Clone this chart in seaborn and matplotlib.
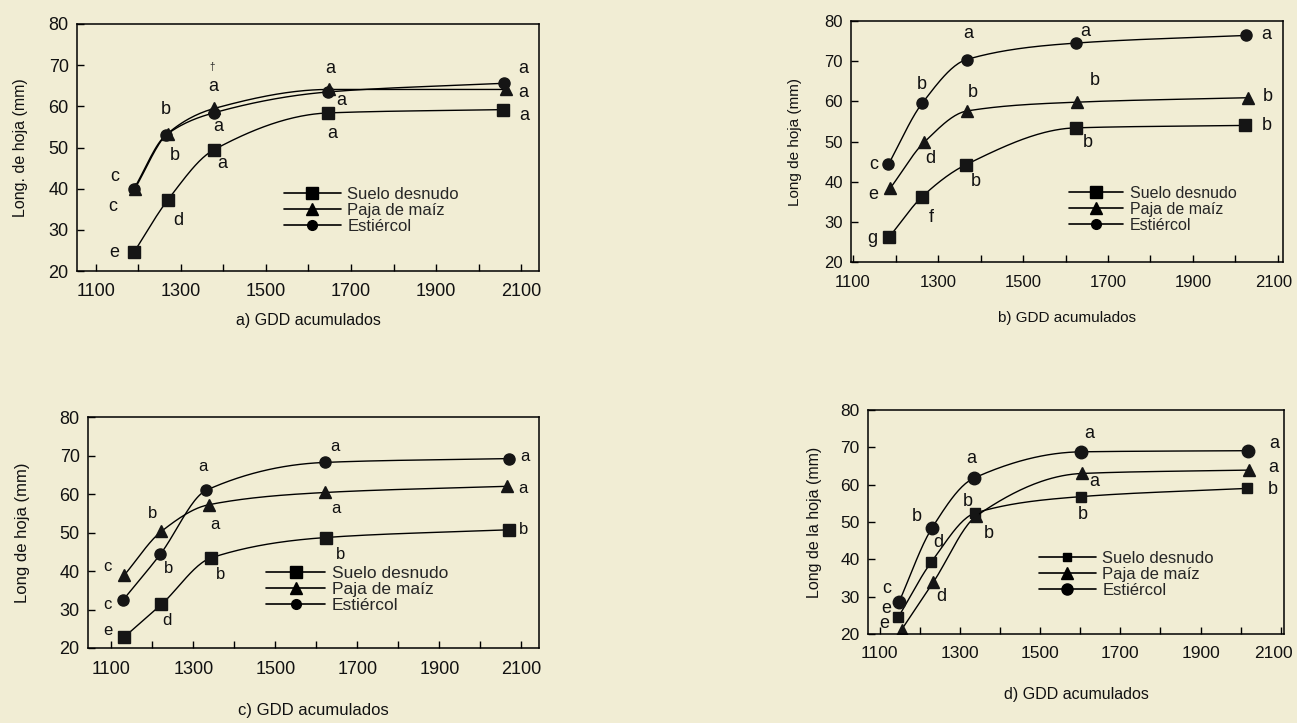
import numpy as np
import matplotlib
matplotlib.use("Agg")
import matplotlib.pyplot as plt
from matplotlib.lines import Line2D
from matplotlib.transforms import ScaledTranslation
import seaborn as sns

sns.set_theme(style="white")
plt.rcParams['font.family'] = ['Liberation Sans', 'DejaVu Sans']

SERIES = ["Suelo desnudo", "Paja de maíz", "Estiércol"]

# ---- Panel a ----
a_x_suelo = [1190, 1269, 1377, 1647, 2058]
a_y_suelo = [24.6, 37.2, 49.4, 58.4, 59.2]
a_x_paja = [1192, 1269, 1379, 1649, 2065]
a_y_paja = [40.0, 53.4, 59.5, 64.1, 64.1]
a_x_est = [1190, 1265, 1377, 1647, 2060]
a_y_est = [40.0, 53.0, 58.4, 63.5, 65.6]
a_l_suelo = ["e", "d", "a", "a", "a"]
a_l_paja = ["c", "b", "a", "a", "a"]
a_l_est = ["c", "b", "a", "a", "a"]

# ---- Panel b ----
b_x_suelo = [1184, 1263, 1365, 1624, 2022]
b_y_suelo = [26.1, 36.3, 44.2, 53.4, 54.0]
b_x_paja = [1187, 1268, 1368, 1628, 2030]
b_y_paja = [38.3, 49.9, 57.6, 59.8, 60.9]
b_x_est = [1183, 1263, 1367, 1624, 2024]
b_y_est = [44.3, 59.6, 70.4, 74.5, 76.4]
b_l_suelo = ["g", "f", "b", "b", "b"]
b_l_paja = ["e", "d", "b", "b", "b"]
b_l_est = ["c", "b", "a", "a", "a"]

# ---- Panel c ----
c_x_suelo = [1132, 1222, 1343, 1623, 2070]
c_y_suelo = [22.9, 31.3, 43.4, 48.7, 50.7]
c_x_paja = [1132, 1222, 1337, 1622, 2065]
c_y_paja = [39.0, 50.3, 57.2, 60.4, 62.0]
c_x_est = [1128, 1219, 1332, 1620, 2070]
c_y_est = [32.4, 44.3, 61.0, 68.2, 69.2]
c_l_suelo = ["e", "d", "b", "b", "b"]
c_l_paja = ["c", "b", "a", "a", "a"]
c_l_est = ["c", "b", "a", "a", "a"]

# ---- Panel d ----
d_x_suelo = [1147, 1229, 1338, 1602, 2017]
d_y_suelo = [24.6, 39.3, 52.4, 56.8, 59.0]
d_x_paja = [1155, 1234, 1341, 1604, 2020]
d_y_paja = [21.2, 33.9, 51.6, 63.0, 63.9]
d_x_est = [1148, 1230, 1334, 1602, 2018]
d_y_est = [28.5, 48.3, 61.7, 68.8, 69.1]
d_l_suelo = ["e", "d", "b", "b", "b"]
d_l_paja = ["e", "d", "b", "a", "a"]
d_l_est = ["c", "b", "a", "a", "a"]

x_ticks = [1100, 1300, 1500, 1700, 1900, 2100]
y_ticks = [20, 30, 40, 50, 60, 70, 80]

BG = "#f1edd4"
W, H = 1297, 723


def pchip(x, y, n=200):
    """Monotone cubic rendering of the line through the data points."""
    x = np.asarray(x, float)
    y = np.asarray(y, float)
    h = np.diff(x)
    d = np.diff(y) / h
    m = np.zeros_like(y)
    for k in range(1, len(x) - 1):
        if d[k - 1] * d[k] > 0:
            w1 = 2 * h[k] + h[k - 1]
            w2 = h[k] + 2 * h[k - 1]
            m[k] = (w1 + w2) / (w1 / d[k - 1] + w2 / d[k])
    m[0] = d[0]
    m[-1] = d[-1]
    xs = np.linspace(x[0], x[-1], n)
    idx = np.clip(np.searchsorted(x, xs) - 1, 0, len(x) - 2)
    t = (xs - x[idx]) / h[idx]
    h00 = 2 * t**3 - 3 * t**2 + 1
    h10 = t**3 - 2 * t**2 + t
    h01 = -2 * t**3 + 3 * t**2
    h11 = t**3 - t**2
    ys = h00 * y[idx] + h10 * h[idx] * m[idx] + h01 * y[idx + 1] + h11 * h[idx] * m[idx + 1]
    return xs, ys


fig = plt.figure(figsize=(W / 100, H / 100), dpi=100)
fig.patch.set_facecolor(BG)

panels = [
    dict(box=(77, 539, 24, 271), xlim=(1056, 2142),
         data=[(a_x_suelo, a_y_suelo, a_l_suelo), (a_x_paja, a_y_paja, a_l_paja), (a_x_est, a_y_est, a_l_est)],
         offs=[[(-20, 0), (11, 20), (9, 14), (4, 21), (21, 6)],
               [(-22, 18), (7, 22), (4, 18), (12, 11), (17, 3)],
               [(-19, -12), (0, -26), (0, -26), (2, -23), (19, -15)]],
         ylabel="Long. de hoja (mm)", xlabel="a) GDD acumulados",
         ylab_x=21, xlab_y=320, tfs=13, lfs=11.5, afs=13,
         leg=(284, 187), ms=(9, 9, 8), lastshift=0),
    dict(box=(851, 1283, 21, 262), xlim=(1095, 2112),
         data=[(b_x_suelo, b_y_suelo, b_l_suelo), (b_x_paja, b_y_paja, b_l_paja), (b_x_est, b_y_est, b_l_est)],
         offs=[[(-16, 1), (9, 21), (10, 17), (12, 15), (22, 0)],
               [(-17, 6), (6, 17), (6, -18), (17, -22), (20, -1)],
               [(-15, 0), (-1, -18), (2, -26), (10, -12), (21, -1)]],
         ylabel="Long de hoja (mm)", xlabel="b) GDD acumulados",
         ylab_x=795, xlab_y=318, tfs=12, lfs=11, afs=13,
         leg=(1069, 186), ms=(9, 9, 8), lastshift=-4),
    dict(box=(88, 539, 417, 648), xlim=(1043, 2143),
         data=[(c_x_suelo, c_y_suelo, c_l_suelo), (c_x_paja, c_y_paja, c_l_paja), (c_x_est, c_y_est, c_l_est)],
         offs=[[(-17, -6), (6, 16), (10, 17), (15, 17), (14, 0)],
               [(-17, -8), (-9, -18), (6, 20), (11, 16), (16, 2)],
               [(-15, 4), (8, 14), (-4, -24), (10, -16), (16, -2)]],
         ylabel="Long de hoja (mm)", xlabel="c) GDD acumulados",
         ylab_x=23, xlab_y=711, tfs=13, lfs=12, afs=12,
         leg=(266, 566), ms=(9, 9, 8), lastshift=0),
    dict(box=(868, 1284, 410, 634), xlim=(1071, 2108),
         data=[(d_x_suelo, d_y_suelo, d_l_suelo), (d_x_paja, d_y_paja, d_l_paja), (d_x_est, d_y_est, d_l_est)],
         offs=[[(-12, -8), (7, -19), (14, 20), (2, 18), (25, 1)],
               [(-17, -6), (8, 14), (-9, -15), (12, 8), (25, -3)],
               [(-12, -14), (-15, -12), (-2, -20), (8, -18), (26, -7)]],
         ylabel="Long de la hoja (mm)", xlabel="d) GDD acumulados",
         ylab_x=814, xlab_y=695, tfs=12.5, lfs=11.5, afs=13,
         leg=(1039, 551), ms=(7, 9, 9), lastshift=-7),
]

markers = ["s", "^", "o"]

for p in panels:
    l, r, t, b = p["box"]
    ax = fig.add_axes([l / W, 1 - b / H, (r - l) / W, (b - t) / H])
    ax.set_facecolor(BG)
    for (xs, ys, labs), mk, ms, offs in zip(p["data"], markers, p["ms"], p["offs"]):
        sx, sy = pchip(xs, ys)
        sns.lineplot(x=sx, y=sy, ax=ax, color="black", lw=1.0, sort=False, legend=False)
        ax.plot(xs, ys, linestyle="none", marker=mk, markersize=ms, color="#151515",
                markeredgecolor="#151515")
        for xv, yv, lab, (dx, dy) in zip(xs, ys, labs, offs):
            ax.annotate(lab, (xv, yv), xytext=(dx, -dy), textcoords="offset pixels",
                        ha="center", va="center", fontsize=p["afs"], color="#111111")
    ax.set_xlim(*p["xlim"])
    ax.set_ylim(20, 80)
    ax.set_xticks(x_ticks)
    ax.set_xticks(np.arange(1200, 2101, 200), minor=True)
    ax.set_yticks(y_ticks)
    ax.set_xticklabels([str(v) for v in x_ticks], fontsize=p["tfs"])
    ax.set_yticklabels([str(v) for v in y_ticks], fontsize=p["tfs"])
    ax.tick_params(axis="both", which="both", direction="in", length=5, width=1,
                   color="black", labelcolor="#111111", bottom=True, left=True)
    ax.tick_params(axis="x", pad=9)
    ax.tick_params(axis="y", pad=6)
    if p["lastshift"]:
        lbl = ax.get_xticklabels()[-1]
        lbl.set_transform(lbl.get_transform() +
                          ScaledTranslation(p["lastshift"] / 100, 0, fig.dpi_scale_trans))
    for s in ax.spines.values():
        s.set_color("black")
        s.set_linewidth(1.1)
    ax.set_xlabel("")
    ax.set_ylabel("")
    fig.text(p["ylab_x"] / W, 1 - ((t + b) / 2) / H, p["ylabel"], rotation=90,
             ha="center", va="center", fontsize=p["lfs"], color="#111111")
    fig.text(((l + r) / 2) / W, 1 - p["xlab_y"] / H, p["xlabel"],
             ha="center", va="center", fontsize=p["lfs"], color="#111111")
    handles = [Line2D([], [], color="black", lw=1.2, marker=mk, markersize=ms - 1)
               for mk, ms in zip(markers, p["ms"])]
    lx, ly = p["leg"]
    fig.legend(handles, SERIES, loc="upper left",
               bbox_to_anchor=(lx / W, 1 - ly / H), frameon=False,
               fontsize=p["lfs"] + 0.5, handlelength=3.4, handletextpad=0.4,
               labelspacing=0.05, borderpad=0, borderaxespad=0)

# small mark in panel a
fig.text(212 / W, 1 - 67 / H, "†", fontsize=7, ha="center", va="center", color="#222222")

fig.savefig("out.png", dpi=100, facecolor=BG)
